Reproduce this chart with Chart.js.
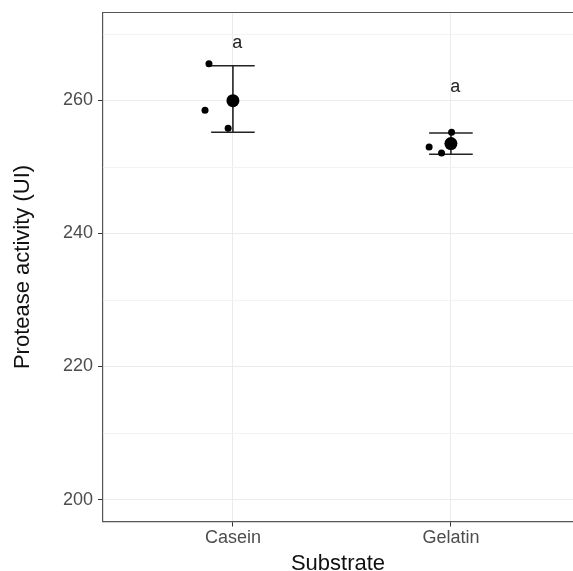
<!DOCTYPE html>
<html>
<head>
<meta charset="utf-8">
<script src="https://cdn.jsdelivr.net/npm/chart.js@4.4.1/dist/chart.umd.min.js"></script>
<style>
  html, body { margin: 0; padding: 0; background: #fff; overflow: hidden; }
  canvas { display: block; }
</style>
</head>
<body>
<canvas id="proteaseChart" width="573" height="571"></canvas>
<script>
// categories on the discrete x axis
const categories = ['Casein', 'Gelatin'];
const catPos = [1, 2];

// replicate measurements and their jitter (category units)
const replicates = [
  [265.5, 258.5, 255.8],
  [253.0, 252.1, 255.2]
];
const jitter = [
  [-0.11, -0.128, -0.022],
  [-0.10, -0.043, 0.003]
];

// mean and error bar limits
const means = [259.95, 253.5];
const errLow = [255.2, 251.9];
const errHigh = [265.2, 255.1];

// significance letters and their heights
const letters = ['a', 'a'];
const letterY = [268.6, 262.0];

const yTicks = [200, 220, 240, 260];
const yMinor = [210, 230, 250, 270];
const capHalf = 0.1;

const pointData = [];
categories.forEach((c, i) => {
  replicates[i].forEach((v, j) => pointData.push({ x: catPos[i] + jitter[i][j], y: v }));
});
const meanData = categories.map((c, i) => ({ x: catPos[i], y: means[i] }));

const barStyle = {
  type: 'scatter', showLine: true, pointRadius: 0, borderColor: '#222',
  borderWidth: 1.6, backgroundColor: '#222'
};
const barSets = [];
categories.forEach((c, i) => {
  const x = catPos[i];
  barSets.push({ ...barStyle, data: [{ x: x - capHalf, y: errHigh[i] }, { x: x + capHalf, y: errHigh[i] }] });
  barSets.push({ ...barStyle, data: [{ x: x - capHalf, y: errLow[i] }, { x: x + capHalf, y: errLow[i] }] });
  barSets.push({ ...barStyle, data: [{ x: x, y: errLow[i] }, { x: x, y: errHigh[i] }] });
});

// minor grid, letters above the bars and the top panel border
const extras = {
  id: 'extras',
  beforeDatasetsDraw(chart) {
    const { ctx, chartArea, scales: { y } } = chart;
    ctx.save();
    ctx.strokeStyle = '#f3f3f3';
    ctx.lineWidth = 1;
    yMinor.forEach(v => {
      const py = Math.round(y.getPixelForValue(v)) + 0.5;
      ctx.beginPath();
      ctx.moveTo(chartArea.left, py);
      ctx.lineTo(chartArea.right, py);
      ctx.stroke();
    });
    ctx.restore();
  },
  afterDatasetsDraw(chart) {
    const { ctx, scales: { x, y } } = chart;
    ctx.save();
    ctx.fillStyle = '#222';
    ctx.font = '18px "Liberation Sans", Arial, sans-serif';
    ctx.textAlign = 'center';
    ctx.textBaseline = 'middle';
    letters.forEach((t, i) => {
      ctx.fillText(t, x.getPixelForValue(catPos[i] + 0.02), y.getPixelForValue(letterY[i]));
    });
    ctx.restore();
  },
  afterDraw(chart) {
    const { ctx, chartArea } = chart;
    ctx.save();
    ctx.strokeStyle = '#555';
    ctx.lineWidth = 1.2;
    ctx.beginPath();
    ctx.moveTo(chartArea.left, chartArea.top);
    ctx.lineTo(chartArea.right, chartArea.top);
    ctx.stroke();
    ctx.restore();
  }
};

new Chart(document.getElementById('proteaseChart').getContext('2d'), {
  type: 'scatter',
  data: {
    datasets: [
      { data: pointData, pointRadius: 3.5, pointHoverRadius: 3.5, backgroundColor: '#000', borderWidth: 0 },
      { data: meanData, pointRadius: 6.5, pointHoverRadius: 6.5, backgroundColor: '#000', borderWidth: 0 },
      ...barSets
    ]
  },
  options: {
    responsive: false,
    animation: false,
    layout: { autoPadding: false, padding: { top: 12.5, left: 0, right: 0, bottom: 0 } },
    plugins: { legend: { display: false }, tooltip: { enabled: false } },
    scales: {
      x: {
        type: 'linear',
        min: 0.404,
        max: 2.56,
        afterBuildTicks: scale => { scale.ticks = catPos.map(v => ({ value: v })); },
        afterFit: scale => {
          scale.height = 49.5;
          scale.paddingLeft = 0;
          scale.paddingRight = 0;
        },
        ticks: {
          callback: v => categories[catPos.indexOf(v)] ?? '',
          color: '#4d4d4d',
          font: { family: '"Liberation Sans", Arial, sans-serif', size: 18 },
          maxRotation: 0,
          autoSkip: false,
          padding: 1
        },
        grid: { color: '#ebebeb', tickLength: 5, tickColor: '#333' },
        border: { color: '#555', width: 1.2 },
        title: {
          display: true,
          text: 'Substrate',
          color: '#111',
          font: { family: '"Liberation Sans", Arial, sans-serif', size: 22, lineHeight: 0.6 },
          padding: 0
        }
      },
      y: {
        min: 196.7,
        max: 273.2,
        afterBuildTicks: scale => { scale.ticks = yTicks.map(v => ({ value: v })); },
        afterFit: scale => {
          scale.width = 103;
          scale.paddingTop = 0;
          scale.paddingBottom = 0;
        },
        ticks: {
          color: '#4d4d4d',
          font: { family: '"Liberation Sans", Arial, sans-serif', size: 18 },
          padding: 5
        },
        grid: { color: '#ebebeb', tickColor: '#333', tickLength: 5 },
        border: { color: '#555', width: 1.2 },
        title: {
          display: true,
          text: 'Protease activity (UI)',
          color: '#111',
          font: { family: '"Liberation Sans", Arial, sans-serif', size: 22, lineHeight: 0.8 },
          padding: { top: 14, bottom: 0 }
        }
      }
    }
  },
  plugins: [extras]
});
</script>
</body>
</html>
